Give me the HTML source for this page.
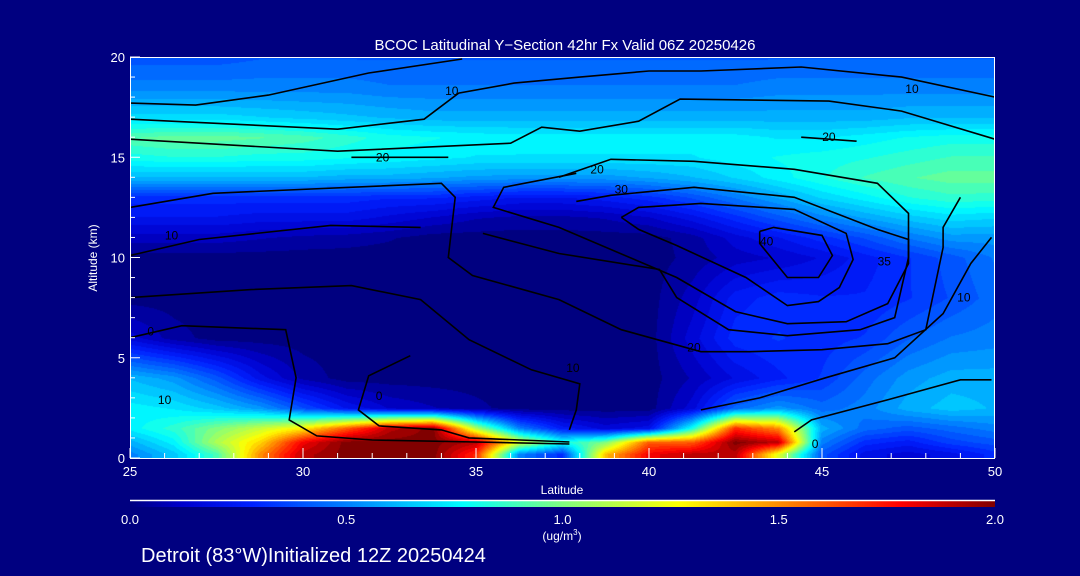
<!DOCTYPE html>
<html><head><meta charset="utf-8">
<style>
html,body{margin:0;padding:0;background:#000080;width:1080px;height:576px;overflow:hidden;font-family:"Liberation Sans",sans-serif;color:#fff}
#wrap{position:relative;width:1080px;height:576px}
canvas,svg{position:absolute;left:0;top:0}
</style></head>
<body>
<div id="wrap">
<canvas id="field" width="865" height="401" style="left:130px;top:57px"></canvas>
<canvas id="cbar" width="865" height="6" style="left:130px;top:501px"></canvas>
<svg id="svg" width="1080" height="576"></svg>
</div>
<script>
// ---- data ----
const lats = [25,26.25,27.5,28.75,30,31.25,32.5,33.75,35,36.25,37.5,38.75,40,41.25,42.5,43.75,45,46.25,47.5,48.75,50];
const alts = [0.2,0.8,1.5,2.5,4,6,8,10,11,12,13,14,15,16,17,18.5,20];
const conc = [
[.5,.65,.9,1.5,1.9,2,2,2,1.7,.5,.3,1.4,1.8,1.9,1.9,1.2,.4,.2,.15,.2,.3],
[.6,.75,1.1,1.35,1.8,2,2,2,1.9,1.2,.8,1.0,1.6,1.6,2,1.9,.5,.3,.25,.35,.4],
[.75,.85,1.0,1.15,1.3,1.6,1.9,2.0,1.1,.5,.25,.15,.2,.8,1.7,1.5,.6,.45,.4,.45,.5],
[.75,.72,.65,.55,.38,.22,.12,.08,.04,0,0,0,0,.15,.45,.55,.45,.5,.6,.65,.62],
[.62,.55,.40,.2,.06,0,0,0,0,0,0,0,0,.08,.18,.26,.33,.45,.55,.6,.6],
[.15,.05,0,0,0,0,0,0,0,0,0,0,0,.15,.3,.33,.3,.33,.42,.48,.5],
[0,0,0,0,0,0,0,0,0,0,0,0,0,.1,.25,.3,.28,.28,.32,.38,.45],
[0,0,0,0,0,0,0,0,0,0,0,0,0,.04,.1,.13,.18,.25,.32,.4,.48],
[.1,.1,.1,.08,.06,.05,.03,0,0,0,0,0,0,.05,.15,.22,.3,.38,.48,.55,.55],
[.22,.22,.22,.20,.20,.20,.16,.12,.08,.06,.06,.08,.12,.2,.3,.4,.5,.58,.65,.70,.68],
[.30,.30,.30,.30,.30,.30,.28,.28,.25,.22,.22,.25,.30,.38,.48,.58,.68,.75,.82,.86,.85],
[.62,.62,.62,.62,.62,.60,.60,.58,.56,.55,.55,.55,.58,.62,.68,.75,.82,.88,.92,.95,.95],
[.80,.82,.82,.80,.80,.78,.76,.74,.72,.72,.72,.72,.72,.72,.75,.78,.80,.82,.85,.88,.88],
[.92,.95,.95,.93,.90,.85,.80,.78,.76,.75,.75,.75,.75,.75,.75,.72,.72,.75,.78,.80,.80],
[.70,.70,.70,.68,.66,.64,.62,.60,.60,.60,.60,.60,.60,.60,.60,.60,.60,.60,.62,.62,.62],
[.50,.50,.50,.50,.50,.50,.48,.48,.48,.48,.48,.48,.48,.48,.48,.50,.50,.50,.50,.50,.50],
[.40,.40,.40,.42,.42,.42,.42,.42,.42,.42,.42,.42,.42,.42,.42,.42,.42,.42,.42,.42,.42]
];
const xTicks = [25,30,35,40,45,50];
const yTicks = [0,5,10,15,20];
const cbTicks = ["0.0","0.5","1.0","1.5","2.0"];
const contourLines = [
 {pts:[[25,17.7],[26.9,17.6],[29,18.1],[31.9,19.2],[34.6,19.9]]},
 {pts:[[25,16.9],[31,16.4],[33.5,16.9],[34.5,18.2],[36.1,18.7],[38,19],[40,19.3],[41.5,19.3],[44.4,19.5],[47.3,19],[50,18]]},
 {pts:[[25,15.9],[31,15.3],[36,15.7],[36.9,16.5],[38,16.3],[39.7,16.8],[40.9,17.9],[45.2,17.8],[47.3,17.3],[50,15.9]]},
 {pts:[[25,12.5],[27.4,13.2],[34,13.7],[34.4,13],[34.2,10],[34.9,9.1],[37.4,7.9],[39.2,6.4],[41.5,5.3],[42.9,5.3],[45,5.4],[46.9,5.7],[48,6.4],[48.5,10.5],[48.5,11.5],[49,13]]},
 {pts:[[43.2,11.3],[43.6,11.5],[45,11.1],[45.3,10.1],[44.9,9],[44,9],[43.2,10.7],[43.2,11.3]]},
 {pts:[[39.2,12],[39.7,12.5],[41.5,12.7],[44.2,12.4],[45.7,11.2],[45.9,9.9],[45.5,8.5],[44.9,7.8],[44,7.6],[42.8,9],[40.8,10.6],[39.7,11.4],[39.2,12]]},
 {pts:[[37.9,12.8],[38.9,13.1],[41.3,13.5],[44.2,13],[46.6,11.4],[47.5,10.9],[47.5,9.7],[46.9,7.7],[45.7,6.8],[44,6.7],[42.5,7.3],[40.8,9],[37.4,11.5],[35.5,12.5],[35.8,13.5],[37.9,14.2]]},
 {pts:[[37.4,14],[38.9,14.9],[41.3,14.8],[44.2,14.4],[46.6,13.7],[47.5,12.2],[47.5,10],[47.1,7],[46.1,6.4],[44,6.1],[42.3,6.4],[40.8,8],[40.3,9.4],[37.4,10.2],[35.2,11.2]]},
 {pts:[[49.9,11],[49.3,9.7],[48.5,7.2],[47.1,5],[45.1,4],[43.2,3],[41.5,2.4]]},
 {pts:[[49.9,3.9],[49,3.9],[47.1,3],[44.7,1.9],[44.2,1.3]]},
 {pts:[[25,8],[28.5,8.4],[31.4,8.6],[33.4,7.9],[34.8,5.9],[36.6,4.4],[38,3.7],[37.9,2.4],[37.7,1.4]]},
 {pts:[[25,6.0],[26.5,6.6],[29.5,6.4],[29.8,4],[29.6,1.9],[30.4,1.1],[32,0.9],[35,0.8],[37.7,0.7]]},
 {pts:[[33.1,5.1],[31.9,4.1],[31.6,2.4],[32.2,1.6],[34,1.4],[34.8,1],[37.7,0.8]]},
 {pts:[[25,10.1],[27,10.9],[30.8,11.6],[33.4,11.5]]},
 {pts:[[31.4,15],[34.2,15.0]]},
 {pts:[[44.4,16],[46,15.8]]}
];
const contourLabels = [["10",34.3,18.3],["20",32.3,15],["20",45.2,16],["10",47.6,18.4],["20",38.5,14.4],["30",39.2,13.4],["40",43.4,10.8],["35",46.8,9.8],["20",41.3,5.5],["10",37.8,4.5],["10",49.1,8],["10",26,2.9],["10",26.2,11.1],["0",32.2,3.1],["0",44.8,0.7],["0",25.6,6.3]];

// ---- scales ----
const X0=130,X1=995,Y0=458,Y1=57;
const xs = lat => X0 + (lat-25)/25*(X1-X0);
const ys = alt => Y0 - alt/20*(Y0-Y1);
const stops=[[0,[0,0,128]],[0.12,[0,0,205]],[0.28,[0,32,255]],[0.5,[0,128,255]],[0.77,[0,255,255]],[1.0,[128,255,128]],[1.27,[255,255,0]],[1.5,[255,140,0]],[1.78,[255,0,0]],[2.0,[128,0,0]]];
function cmap(v){
  v=Math.max(0,Math.min(2,v));
  for(let i=1;i<stops.length;i++){
    if(v<=stops[i][0]){const a=stops[i-1],b=stops[i];const t=(v-a[0])/(b[0]-a[0]);
      return a[1].map((c,k)=>Math.round(c+(b[1][k]-c)*t));}
  }
  return stops[stops.length-1][1];
}
function idx(arr,v){let i=0;while(i<arr.length-2&&v>arr[i+1])i++;let t=(v-arr[i])/(arr[i+1]-arr[i]);t=Math.max(0,Math.min(1,t));return [i,t];}
function sample(lat,alt){
  const [i,ti]=idx(lats,lat),[j,tj]=idx(alts,alt);
  const a=conc[j][i],b=conc[j][i+1],c=conc[j+1][i],d=conc[j+1][i+1];
  return (a*(1-ti)+b*ti)*(1-tj)+(c*(1-ti)+d*ti)*tj;
}
// field
const fc=document.getElementById('field'),fx=fc.getContext('2d');
const W=fc.width,H=fc.height,img=fx.createImageData(W,H);
for(let py=0;py<H;py++){const alt=(Y0-(py+Y1))/(Y0-Y1)*20;
  for(let px=0;px<W;px++){const lat=25+px/(W-1)*25;
    let v=sample(lat,alt);v=Math.round(v*20)/20;
    const c=cmap(v),o=(py*W+px)*4;img.data[o]=c[0];img.data[o+1]=c[1];img.data[o+2]=c[2];img.data[o+3]=255;}}
fx.putImageData(img,0,0);
// colorbar
const cc=document.getElementById('cbar'),cx=cc.getContext('2d');
for(let px=0;px<cc.width;px++){const c=cmap(px/(cc.width-1)*2);cx.fillStyle=`rgb(${c[0]},${c[1]},${c[2]})`;cx.fillRect(px,0,1,6);}
// svg
const NS='http://www.w3.org/2000/svg',svg=document.getElementById('svg');
function el(t,a,p){const e=document.createElementNS(NS,t);for(const k in a)e.setAttribute(k,a[k]);(p||svg).appendChild(e);return e;}
const gC=el('g',{});


contourLines.forEach(c=>{
  const p=el('polyline',{points:c.pts.map(q=>xs(q[0]).toFixed(1)+','+ys(q[1]).toFixed(1)).join(' '),fill:'none',stroke:'#000','stroke-width':1.6},gC);
  
  
});
contourLabels.forEach(l=>{
  const t=el('text',{x:xs(l[1]),y:ys(l[2])+4,'font-size':12,fill:'#000','text-anchor':'middle'},gC);
  t.textContent=l[0];
  
  
});
// frame
const fr=el('rect',{x:X0+0.5,y:Y1+0.5,width:X1-X0-1,height:Y0-Y1,fill:'none',stroke:'#fff','stroke-width':1});


const gT=el('g',{stroke:'#fff','stroke-width':1});


for(let l=25;l<=50;l++){const m=l%5===0;el('line',{x1:xs(l),x2:xs(l),y1:Y0,y2:Y0-(m?10:5)},gT);}
for(let a=0;a<=20;a++){const m=a%5===0;el('line',{x1:X0,x2:X0+(m?10:5),y1:ys(a),y2:ys(a)},gT);}
xTicks.forEach(v=>{const t=el('text',{x:xs(v),y:476,'font-size':13,fill:'#fff','text-anchor':'middle'});t.textContent=v;
  
  });
yTicks.forEach(v=>{const t=el('text',{x:125,y:ys(v)+5,'font-size':13,fill:'#fff','text-anchor':'end'});t.textContent=v;
  
  });
cbTicks.forEach((v,i)=>{const t=el('text',{x:X0+i*(X1-X0)/4,y:524,'font-size':13,fill:'#fff','text-anchor':'middle'});t.textContent=v;
  
  });
const cl=el('line',{x1:X0,x2:X1,y1:500.5,y2:500.5,stroke:'#fff','stroke-width':1.5});


</script>
<svg width="1080" height="576" style="position:absolute;left:0;top:0">
<text x="565" y="50" font-size="15" fill="#fff" text-anchor="middle" font-family="Liberation Sans">BCOC Latitudinal Y−Section 42hr  Fx Valid 06Z 20250426</text>
<text x="562" y="494" font-size="12" fill="#fff" text-anchor="middle" font-family="Liberation Sans">Latitude</text>
<text transform="translate(97,258) rotate(-90)" font-size="12" fill="#fff" text-anchor="middle" font-family="Liberation Sans">Altitude (km)</text>
<text x="562" y="540" font-size="12" fill="#fff" text-anchor="middle" font-family="Liberation Sans">(ug/m<tspan font-size="8" dy="-5">3</tspan><tspan dy="5">)</tspan></text>
<text x="141" y="562" font-size="20" fill="#fff" font-family="Liberation Sans">Detroit (83°W)Initialized 12Z 20250424</text>
</svg>
</body></html>
